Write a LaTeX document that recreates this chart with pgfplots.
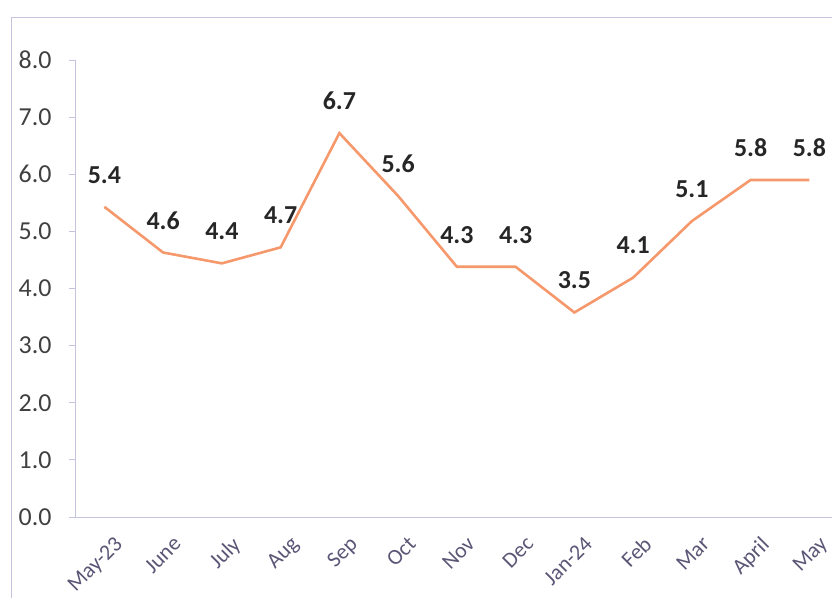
\documentclass[border=0pt]{standalone}
\usepackage{pgfplots}
\pgfplotsset{compat=1.18}
\usepackage{pgfplotstable}
\usepackage{fontspec}
\setmainfont{Carlito}
\definecolor{linec}{RGB}{245,152,108}
\definecolor{axc}{RGB}{196,196,222}
\definecolor{ytxt}{RGB}{64,64,64}
\definecolor{xtxt}{RGB}{90,86,118}
\definecolor{lbl}{RGB}{38,38,38}
\pgfplotstableread{
x y lab
0 5.43 5.4
1 4.63 4.6
2 4.44 4.4
3 4.72 4.7
4 6.72 6.7
5 5.62 5.6
6 4.38 4.3
7 4.38 4.3
8 3.58 3.5
9 4.19 4.1
10 5.18 5.1
11 5.90 5.8
12 5.90 5.8
}\datatab
\begin{document}
\begin{tikzpicture}
\useasboundingbox (0,0) rectangle (832bp,598bp);
\draw[axc, line width=0.8bp] (11bp,-20bp) -- (11bp,581bp) -- (860bp,581bp);
\begin{axis}[
  at={(75bp,81bp)}, anchor=south west,
  scale only axis, width=763.75bp, height=457bp,
  xmin=-0.5, xmax=12.5, ymin=0, ymax=8,
  axis x line*=bottom, axis y line*=left,
  axis line style={axc, line width=0.8bp, -},
  xtick={0,...,12},
  xticklabels={May-23,June,July,Aug,Sep,Oct,Nov,Dec,Jan-24,Feb,Mar,April,May},
  minor xtick={-0.5,0.5,...,12.5},
  ytick={0,1,...,8},
  tick align=outside,
  x tick style={draw=none},
  minor x tick style={axc, line width=0.8bp},
  minor tick length=6bp,
  y tick style={axc, line width=0.8bp},
  major tick length=6bp,
  /pgf/number format/assume math mode=true,
  /pgf/number format/fixed, /pgf/number format/fixed zerofill, /pgf/number format/precision=1,
  yticklabel style={font=\fontsize{26}{30}\selectfont, text=ytxt, xshift=-14bp},
  xticklabel style={font=\fontsize{22}{26}\selectfont, text=xtxt, inner sep=0pt, xshift=9bp, yshift=-12bp, rotate=45, anchor=north east},
  clip=false,
]
\addplot[linec, line width=2.6bp, no markers,
  nodes near coords, point meta=explicit symbolic,
  every node near coord/.append style={font=\bfseries\fontsize{26}{30}\selectfont, text=lbl, anchor=center, yshift=32bp}]
  table[x=x, y=y, meta=lab] {\datatab};
\end{axis}
\end{tikzpicture}
\end{document}
